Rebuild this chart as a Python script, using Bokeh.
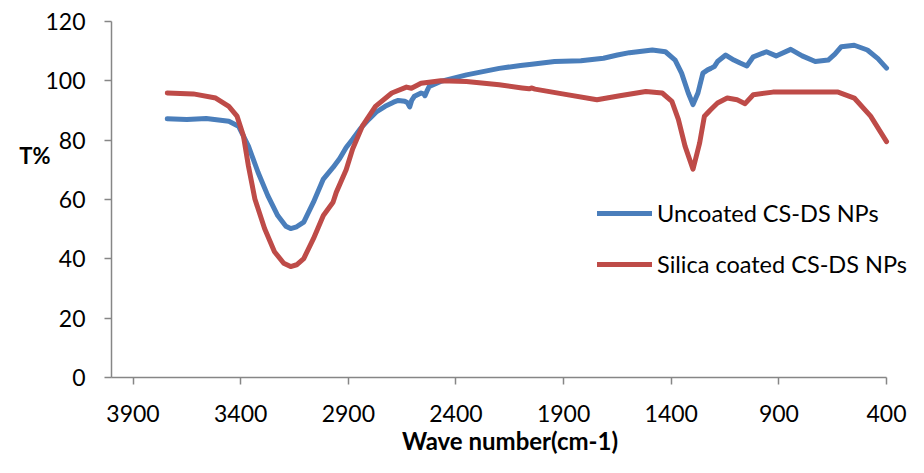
from bokeh.plotting import figure
from bokeh.models import Range1d, FixedTicker, Legend, LegendItem, LinearAxis
from bokeh.embed import file_html
from bokeh.resources import INLINE

# ---- data ----
blue_x = [3741, 3650, 3560, 3455, 3410, 3364, 3319, 3274, 3228, 3190, 3168, 3140, 3107,
          3062, 3016, 2971, 2940, 2910, 2880, 2845, 2805, 2770, 2729, 2690, 2668, 2638,
          2625, 2615, 2605, 2593, 2562, 2550, 2544, 2535, 2524, 2471, 2351, 2199, 2100,
          2048, 1942, 1820, 1715, 1650, 1594, 1488, 1427, 1382, 1352, 1321, 1299, 1276,
          1253, 1231, 1216, 1200, 1185, 1147, 1109, 1080, 1049, 1019, 958, 913, 845, 792,
          731, 671, 640, 610, 550, 489, 440, 400]
blue_y = [87.2, 87.0, 87.3, 86.4, 84.7, 78.0, 69.1, 61.3, 54.6, 51.0, 50.2, 50.8, 52.4,
          59.1, 66.9, 70.8, 73.8, 77.5, 80.3, 83.8, 87.0, 89.5, 91.4, 92.8, 93.4, 93.1,
          92.6, 91.2, 93.5, 94.8, 95.9, 95.6, 95.0, 96.5, 98.1, 99.8, 102.0, 104.2, 105.2,
          105.6, 106.5, 106.8, 107.6, 108.7, 109.5, 110.4, 109.8, 107.0, 102.6, 95.9, 92.0, 95.9,
          102.6, 103.7, 104.2, 104.8, 106.5, 108.7, 107.0, 106.0, 105.0, 108.1, 109.8, 108.4, 110.6, 108.4,
          106.5, 107.0, 109.0, 111.5, 112.0, 110.4, 107.5, 104.3]

red_x = [3741, 3620, 3516, 3455, 3417, 3387, 3364, 3334, 3289, 3243, 3200, 3168, 3140,
         3107, 3062, 3016, 2971, 2956, 2910, 2880, 2835, 2774, 2698, 2630, 2607, 2562,
         2471, 2351, 2199, 2093, 2060, 2050, 2033, 1912, 1745, 1639, 1518, 1442, 1397,
         1367, 1336, 1299, 1268, 1246, 1231, 1216, 1185, 1140, 1094, 1057, 1019, 928,
         777, 625, 550, 474, 400]
red_y = [95.9, 95.6, 94.2, 91.4, 88.1, 81.4, 71.3, 60.2, 50.2, 42.4, 38.5, 37.4, 38.0,
         40.1, 46.8, 54.6, 59.1, 62.4, 70.0, 77.0, 84.7, 91.4, 95.9, 97.9, 97.5, 99.2,
         100.0, 99.8, 98.7, 97.6, 97.3, 97.6, 97.2, 95.7, 93.6, 95.0, 96.4, 95.9, 93.1,
         87.0, 78.0, 70.2, 79.1, 88.1, 89.2, 90.3, 92.5, 94.2, 93.6, 92.3, 95.3, 96.2,
         96.2, 96.2, 94.2, 88.1, 79.5]

x_ticks = [3900, 3400, 2900, 2400, 1900, 1400, 900, 400]
y_ticks = [0, 20, 40, 60, 80, 100, 120]
series_names = ["Uncoated CS-DS NPs", "Silica coated CS-DS NPs"]
y_title = "T%"
y_title_pos = 75
x_title = "Wave number(cm-1)"

FONT = "Lato"
AXIS_GRAY = "#868686"

p = figure(width=908, height=457, output_backend="svg", toolbar_location=None,
           x_range=Range1d(4000, 298), y_range=Range1d(0, 120),
           min_border_left=111, min_border_right=0, min_border_top=21, min_border_bottom=78)
p.outline_line_color = None
p.xgrid.visible = False
p.ygrid.visible = False

l1 = p.line(blue_x, blue_y, line_color="#4A7EBB", line_width=5, line_cap="round", line_join="round")
l2 = p.line(red_x, red_y, line_color="#BE4B48", line_width=5, line_cap="round", line_join="round")

for ax in (p.xaxis[0], p.yaxis[0]):
    ax.axis_line_color = AXIS_GRAY
    ax.axis_line_width = 1.5
    ax.major_tick_line_color = AXIS_GRAY
    ax.major_tick_line_width = 1.5
    ax.major_tick_out = 7
    ax.major_tick_in = 0
    ax.minor_tick_line_color = None
    ax.major_label_text_font = FONT
    ax.major_label_text_font_size = "23px"
    ax.major_label_text_color = "#000000"

p.xaxis[0].ticker = FixedTicker(ticks=x_ticks)
p.xaxis[0].bounds = (400, 4000)
p.yaxis[0].ticker = FixedTicker(ticks=y_ticks)
p.xaxis[0].major_label_standoff = 20
p.yaxis[0].major_label_standoff = 19
p.xaxis[0].axis_label = x_title
p.xaxis[0].axis_label_text_font = FONT
p.xaxis[0].axis_label_text_font_style = "bold"
p.xaxis[0].axis_label_text_font_size = "24px"
p.xaxis[0].axis_label_text_color = "#000000"
p.xaxis[0].axis_label_standoff = 1

# y title drawn as a label-only axis, horizontal, at its value position
t_axis = LinearAxis(ticker=FixedTicker(ticks=[y_title_pos]),
                    major_label_overrides={y_title_pos: y_title},
                    axis_line_color=None, major_tick_line_color=None, minor_tick_line_color=None,
                    major_tick_out=0, major_tick_in=0, major_label_standoff=-8,
                    major_label_text_font=FONT, major_label_text_font_style="bold",
                    major_label_text_font_size="22px", major_label_text_color="#000000")
p.add_layout(t_axis, "left")

legend = Legend(items=[LegendItem(label=series_names[0], renderers=[l1]),
                       LegendItem(label=series_names[1], renderers=[l2])],
                location=(486, 98), orientation="vertical",
                glyph_width=55, glyph_height=30, label_height=30, spacing=21,
                label_standoff=5, padding=0, margin=0,
                label_text_font=FONT, label_text_font_size="23.5px", label_text_color="#000000",
                border_line_color=None, background_fill_alpha=0)
p.add_layout(legend)

open("out.html", "w").write(file_html(p, INLINE))
